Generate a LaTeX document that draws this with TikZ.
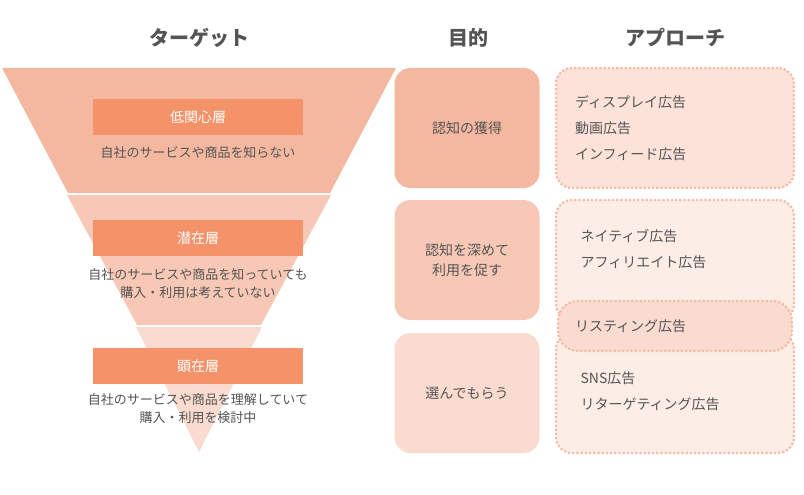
\documentclass[tikz,border=0pt]{standalone}
\usepackage{fontspec}
\setmainfont{Noto Sans CJK JP}
\begin{document}
\begin{tikzpicture}[x=1pt,y=-1pt,
  txt/.style={text=black!67,font=\fontsize{13}{18}\selectfont,align=center},
  head/.style={text=black!67,font=\fontsize{20}{24}\selectfont\bfseries},
  lab/.style={fill=orange!60!red!55!white,draw=none,minimum width=210pt,minimum height=36pt,text=white,font=\fontsize{14}{16}\selectfont},
  mid/.style={rounded corners=16pt,minimum width=145pt,minimum height=120pt,draw=none,text=black!67,font=\fontsize{14}{20}\selectfont,align=center},
  appr/.style={rounded corners=16pt,draw=orange!35!red!30!white,line width=2.2pt,dotted,minimum width=238pt,text=black!67,font=\fontsize{14}{26}\selectfont,align=left}]
\definecolor{c1}{HTML}{F4B8A0}
\definecolor{c2}{HTML}{F7C8B5}
\definecolor{c3}{HTML}{FADBCF}
\definecolor{lb}{HTML}{F4926A}
\definecolor{r1}{HTML}{FCE2D9}
\definecolor{r2}{HTML}{FDEDE7}
\definecolor{r3}{HTML}{FEF3EF}
\definecolor{dt}{HTML}{F5BCA6}
\useasboundingbox (0,0) rectangle (804,495);
% funnel
\fill[c1] (2,68) -- (396,68) -- (330,193) -- (68,193) -- cycle;
\fill[c2] (67,195) -- (331,195) -- (261,325) -- (137,325) -- cycle;
\fill[c3] (136,327) -- (262,327) -- (199,452) -- cycle;
\node[head] (h1) at (199,38) {ターゲット};
\node[head] (h2) at (468,38) {目的};
\node[head] (h3) at (675,38) {アプローチ};
\node[lab,fill=lb] (l1) at (198,117) {低関心層};
\node[txt] (t1) at (198,153) {自社のサービスや商品を知らない};
\node[lab,fill=lb] (l2) at (198,238) {潜在層};
\node[txt] (t2) at (198,284) {自社のサービスや商品を知っていても\\購入・利用は考えていない};
\node[lab,fill=lb] (l3) at (198,366) {顕在層};
\node[txt] (t3) at (198,409) {自社のサービスや商品を理解していて\\購入・利用を検討中};
\node[mid,fill=c1] (m1) at (467,128) {認知の獲得};
\node[mid,fill=c2] (m2) at (467,260) {認知を深めて\\利用を促す};
\node[mid,fill=c3] (m3) at (467,393) {選んでもらう};
\node[appr,draw=dt,fill=r1,minimum height=120pt,text width=200pt] (a1) at (675,128) {ディスプレイ広告\\動画広告\\インフィード広告};
\node[appr,draw=dt,fill=r2,minimum height=120pt,text width=200pt] (a3) at (675,393) {};
\node[appr,draw=dt,fill=r2,minimum height=120pt,text width=200pt] (a2) at (675,260) {};
\node[anchor=north west,text=black!67,font=\fontsize{14}{26}\selectfont,align=left] (a2t) at (577,226) {ネイティブ広告\\アフィリエイト広告};
\node[anchor=north west,text=black!67,font=\fontsize{14}{26}\selectfont,align=left] (a3t) at (577,368) {SNS広告\\リターゲティング広告};
\node[appr,draw=dt,fill=c3,minimum width=234pt,minimum height=50pt,rounded corners=20pt,text width=200pt] (a4) at (675,326) {リスティング広告};
\end{tikzpicture}
\end{document}
